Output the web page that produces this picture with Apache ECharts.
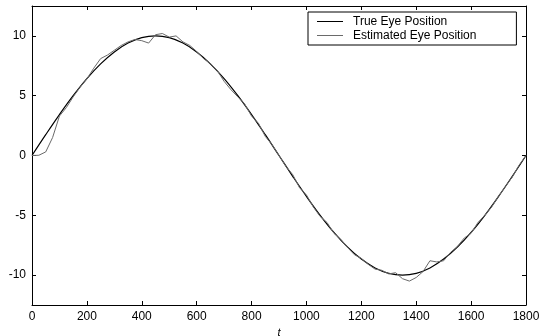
<!DOCTYPE html>
<html>
<head>
<meta charset="utf-8">
<style>
  html, body { margin: 0; padding: 0; background: #fff; }
  #chart { width: 549px; height: 336px; }
</style>
<script src="https://cdn.jsdelivr.net/npm/echarts@6/dist/echarts.min.js"></script>
</head>
<body>
<div id="chart"></div>
<script>
// true eye position, read every 50 samples
var trueT = [0, 50, 100, 150, 200, 250, 300, 350, 400, 450, 500, 550, 600, 650, 700, 750, 800, 850, 900,
  950, 1000, 1050, 1100, 1150, 1200, 1250, 1300, 1350, 1400, 1450, 1500, 1550, 1600, 1650, 1700, 1750, 1800];
var trueVals = [0, 1.74, 3.42, 5.0, 6.43, 7.66, 8.66, 9.40, 9.85, 10, 9.85, 9.40, 8.66, 7.66, 6.43, 5.0, 3.42, 1.74, 0,
  -1.74, -3.42, -5.0, -6.43, -7.66, -8.66, -9.40, -9.85, -10, -9.85, -9.40, -8.66, -7.66, -6.43, -5.0, -3.42, -1.74, 0];

// estimated eye position, read every 25 samples
var estT = [0, 25, 50, 75, 100, 125, 150, 175, 200, 225, 250, 275, 300, 325, 350, 375, 400, 425, 450, 475,
  500, 525, 550, 575, 600, 625, 650, 675, 700, 725, 750, 775, 800, 825, 850, 875, 900, 925, 950, 975,
  1000, 1025, 1050, 1075, 1100, 1125, 1150, 1175, 1200, 1225, 1250, 1275, 1300, 1325, 1350, 1375, 1400, 1425, 1450, 1475,
  1500, 1525, 1550, 1575, 1600, 1625, 1650, 1675, 1700, 1725, 1750, 1775, 1800];
var estVals = [0, 0.02, 0.3, 1.5, 3.3, 4.0, 4.9, 5.7, 6.4, 7.3, 8.1, 8.4, 8.8, 9.2, 9.5, 9.7, 9.6, 9.4, 10.1, 10.2,
  9.9, 10.0, 9.5, 9.2, 8.7, 8.1, 7.7, 7.1, 6.2, 5.5, 4.9, 4.3, 3.3, 2.7, 1.6, 0.9, 0.0, -0.9, -1.6, -2.7,
  -3.3, -4.3, -5.1, -5.6, -6.5, -7.0, -7.7, -8.3, -8.6, -9.1, -9.5, -9.6, -9.9, -9.8, -10.3, -10.5, -10.2, -9.7, -8.8, -8.9,
  -8.8, -8.1, -7.6, -6.9, -6.5, -5.6, -5.0, -4.3, -3.4, -2.6, -1.8, -0.8, 0.0];

var yTicks = [-10, -5, 0, 5, 10];

function pairs(xs, ys) {
  return xs.map(function (x, i) { return [x, ys[i]]; });
}

var chart = echarts.init(document.getElementById('chart'));
var font = 'Liberation Sans, Arial, sans-serif';
var plain = function (v) { return String(v); };

var xBase = {
  type: 'value', min: 0, max: 1800, interval: 200,
  axisLine: { show: true, onZero: false, lineStyle: { color: '#000', width: 1 } },
  axisTick: { show: true, inside: true, length: 4, lineStyle: { color: '#000' } },
  splitLine: { show: false }
};
var yBase = {
  type: 'value', min: -12.5, max: 12.5,
  axisLine: { show: true, onZero: false, lineStyle: { color: '#000', width: 1 } },
  axisTick: { show: true, inside: true, length: 4, customValues: yTicks, lineStyle: { color: '#000' } },
  splitLine: { show: false }
};

chart.setOption({
  animation: false,
  backgroundColor: '#fff',
  grid: { left: 32, right: 23, top: 6, bottom: 31, containLabel: false, outerBoundsMode: 'none' },
  legend: {
    orient: 'vertical',
    left: 308, top: 12,
    padding: [3, 40, 3, 9],
    itemGap: 1,
    itemWidth: 26,
    itemHeight: 1,
    icon: 'rect',
    borderColor: '#000', borderWidth: 1,
    backgroundColor: '#fff',
    textStyle: { fontFamily: font, fontSize: 12, color: '#000', padding: [0, 0, 0, 5], lineHeight: 13 },
    data: ['True Eye Position', 'Estimated Eye Position']
  },
  xAxis: [
    Object.assign({}, xBase, {
      position: 'bottom',
      name: 't', nameLocation: 'middle', nameGap: 22,
      nameTextStyle: { fontFamily: font, fontSize: 11, fontStyle: 'italic', color: '#000' },
      axisLabel: { fontFamily: font, fontSize: 12, color: '#000', margin: 6, formatter: plain }
    }),
    Object.assign({}, xBase, { position: 'top', axisLabel: { show: false } })
  ],
  yAxis: [
    Object.assign({}, yBase, {
      position: 'left',
      axisLabel: { fontFamily: font, fontSize: 12, color: '#000', margin: 6, customValues: yTicks, formatter: plain }
    }),
    Object.assign({}, yBase, { position: 'right', axisLabel: { show: false } })
  ],
  series: [
    {
      name: 'True Eye Position', type: 'line',
      data: pairs(trueT, trueVals),
      smooth: 0.4, symbol: 'none',
      lineStyle: { color: '#000', width: 1.2 },
      itemStyle: { color: '#000' }
    },
    {
      name: 'Estimated Eye Position', type: 'line',
      data: pairs(estT, estVals),
      symbol: 'none',
      lineStyle: { color: '#6a6a6a', width: 1 },
      itemStyle: { color: '#6a6a6a' }
    }
  ]
});
</script>
</body>
</html>
